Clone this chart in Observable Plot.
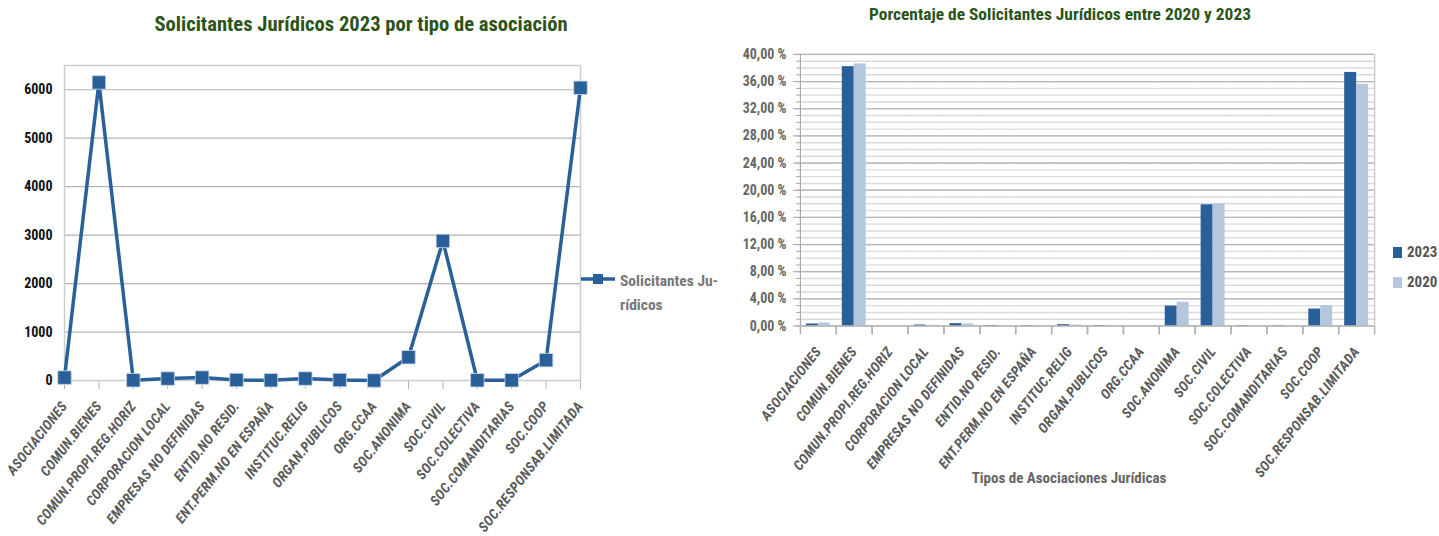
<!DOCTYPE html>
<html><head><meta charset="utf-8">
<script src="https://cdn.jsdelivr.net/npm/d3@7"></script>
<script src="https://cdn.jsdelivr.net/npm/@observablehq/plot@0.6"></script>
<style>
body{margin:0;background:#fff;}
#wrap{position:relative;width:1439px;height:536px;overflow:hidden;font-family:Roboto,"Open Sans",sans-serif;font-stretch:75%;}
.abs{position:absolute;white-space:nowrap;}
.title{color:#2b5418;font-weight:bold;}
#left,#right{position:absolute;top:0;}
#left{left:0;} #right{left:740px;}
svg text{font-stretch:75%;}
svg [aria-label^="x-axis"] text, svg [aria-label^="fx-axis"] text{fill:#5a5a5a;font-style:italic;font-weight:bold;font-size:14px;letter-spacing:0.3px;}
svg [aria-label^="x-axis"] path{stroke:#b3b3b3;}
#left svg [aria-label^="y-axis"] text{fill:#111;font-weight:bold;font-size:14px;}
#right svg [aria-label^="y-axis"] text{fill:#666;font-weight:bold;font-size:14px;}
#right svg [aria-label^="y-axis"] path{stroke:#a8a8a8;}
</style></head><body><div id="wrap">
<div id="left"></div><div id="right"></div>
<div class="abs title" style="left:0;width:722px;text-align:center;top:12px;font-size:20.6px;">Solicitantes Jurídicos 2023 por tipo de asociación</div>
<div class="abs title" style="left:740px;width:640px;text-align:center;top:4px;font-size:17.4px;">Porcentaje de Solicitantes Jurídicos entre 2020 y 2023</div>
<div class="abs" style="left:969px;width:200px;text-align:center;top:469px;font-size:15px;font-weight:bold;color:#666;">Tipos de Asociaciones Jurídicas</div>
<div class="abs" id="legL" style="left:581px;top:267px;"></div>
<div class="abs" id="legR" style="left:1393px;top:237px;"></div>
</div>
<script>
const categories = ["ASOCIACIONES","COMUN.BIENES","COMUN.PROPI.REG.HORIZ","CORPORACION LOCAL","EMPRESAS NO DEFINIDAS","ENTID.NO RESID.","ENT.PERM.NO EN ESPAÑA","INSTITUC.RELIG","ORGAN.PUBLICOS","ORG.CCAA","SOC.ANONIMA","SOC.CIVIL","SOC.COLECTIVA","SOC.COMANDITARIAS","SOC.COOP","SOC.RESPONSAB.LIMITADA"];
const solicitantes2023 = [60, 6150, 5, 40, 60, 10, 5, 40, 10, 0, 480, 2880, 5, 5, 420, 6040];
const pct2023 = [0.30, 38.2, 0, 0.15, 0.35, 0.08, 0.05, 0.20, 0.07, 0, 2.94, 17.85, 0.05, 0.05, 2.5, 37.35];
const pct2020 = [0.45, 38.6, 0, 0.12, 0.30, 0.05, 0.02, 0.15, 0.05, 0, 3.5, 18.0, 0.03, 0.03, 3.0, 35.6];
const years = ["2023", "2020"];
const leftTicks = [0, 1000, 2000, 3000, 4000, 5000, 6000];
const rightTicks = [0, 4, 8, 12, 16, 20, 24, 28, 32, 36, 40];
const rightMinor = d3.range(0, 41, 1);
const seriesName = ["Solicitantes Ju-", "rídicos"];

const DARK = "#2a6099", LIGHT = "#b4c7dc";
const FONT = 'Roboto,"Open Sans",sans-serif';

const lineData = categories.map((c, i) => ({cat: c, value: solicitantes2023[i]}));
const left = Plot.plot({
  width: 600, height: 536,
  marginLeft: 64, marginRight: 20, marginTop: 65, marginBottom: 156,
  style: {fontFamily: FONT, fontSize: "12px", background: "transparent", overflow: "visible"},
  x: {type: "point", domain: categories, padding: 0, round: false, tickRotate: -52, tickSize: 9, tickPadding: 14, label: null},
  y: {domain: [0, 6500], ticks: leftTicks, tickSize: 0, tickPadding: 12, label: null, tickFormat: d => String(d)},
  marks: [
    Plot.ruleY(leftTicks, {stroke: "#b3b3b3", strokeWidth: 1.2}),
    Plot.frame({stroke: "#cccccc", strokeWidth: 1.5}),
    Plot.line(lineData, {x: "cat", y: "value", stroke: DARK, strokeWidth: 3.5}),
    Plot.dot(lineData, {x: "cat", y: "value", symbol: "square", r: 7.6, fill: DARK, stroke: "#c9d6e6", strokeWidth: 0.8})
  ]
});
document.getElementById("left").appendChild(left);

const barData = categories.flatMap((c, i) => [
  {cat: c, year: years[0], value: pct2023[i]},
  {cat: c, year: years[1], value: pct2020[i]}
]);
const fmt = d => d.toFixed(2).replace(".", ",") + " %";
const right = Plot.plot({
  width: 700, height: 536,
  marginLeft: 60, marginRight: 65, marginTop: 54, marginBottom: 210,
  style: {fontFamily: FONT, fontSize: "12px", background: "transparent", overflow: "visible"},
  fx: {domain: categories, padding: 0, round: false, label: null},
  x: {domain: years, paddingInner: 0, paddingOuter: 0.5, round: false, axis: null},
  y: {domain: [0, 40], label: null},
  color: {domain: years, range: [DARK, LIGHT]},
  marks: [
    Plot.ruleY(rightMinor, {stroke: "#dadada", strokeWidth: 1.4}),
    Plot.ruleY(rightTicks, {stroke: "#b3b3b3", strokeWidth: 1.2}),
    Plot.axisY({ticks: rightMinor, tickSize: 4, tickFormat: () => "", label: null}),
    Plot.axisY({ticks: rightTicks, tickSize: 7, tickPadding: 7, tickFormat: fmt, label: null}),
    Plot.axisFx({anchor: "bottom", tickRotate: -52, tickSize: 0, tickPadding: 23, label: null}),
    Plot.barY(barData, {fx: "cat", x: "year", y: "value", fill: "year"}),
    Plot.ruleY([0], {stroke: "#b3b3b3", strokeWidth: 1.2}),
    Plot.ruleX([years[0]], {x: d => d, y1: -1.3, y2: 0, dx: -12, stroke: "#b3b3b3", strokeWidth: 1.5}),
    Plot.ruleX([years[1]], {x: d => d, y1: -1.3, y2: 0, dx: 12, stroke: "#b3b3b3", strokeWidth: 1.5}),
    Plot.ruleX([categories[0]], {fx: d => d, x: () => years[0], y1: 0, y2: 40, dx: -12, stroke: "#a8a8a8", strokeWidth: 1.2}),
    Plot.ruleX([categories[categories.length - 1]], {fx: d => d, x: () => years[1], y1: 0, y2: 40, dx: 12, stroke: "#cccccc", strokeWidth: 1.5})
  ]
});
document.getElementById("right").appendChild(right);

// legends
document.getElementById("legL").innerHTML =
  `<div style="display:flex;align-items:flex-start;">
    <svg width="36" height="24"><line x1="0" y1="12" x2="34" y2="12" stroke="${DARK}" stroke-width="3.5"/><rect x="12" y="7" width="10" height="10" fill="${DARK}"/></svg>
    <div style="margin-left:3px;margin-top:2px;font-size:15.5px;font-weight:bold;color:#777;line-height:24px;">${seriesName[0]}<br>${seriesName[1]}</div></div>`;
document.getElementById("legR").innerHTML = years.map((y, i) =>
  `<div style="display:flex;align-items:center;height:30px;"><span style="display:inline-block;width:9px;height:11px;background:${i ? LIGHT : DARK};"></span><span style="margin-left:5px;font-size:15px;font-weight:bold;color:#555;">${y}</span></div>`).join("");
</script>
</body></html>
